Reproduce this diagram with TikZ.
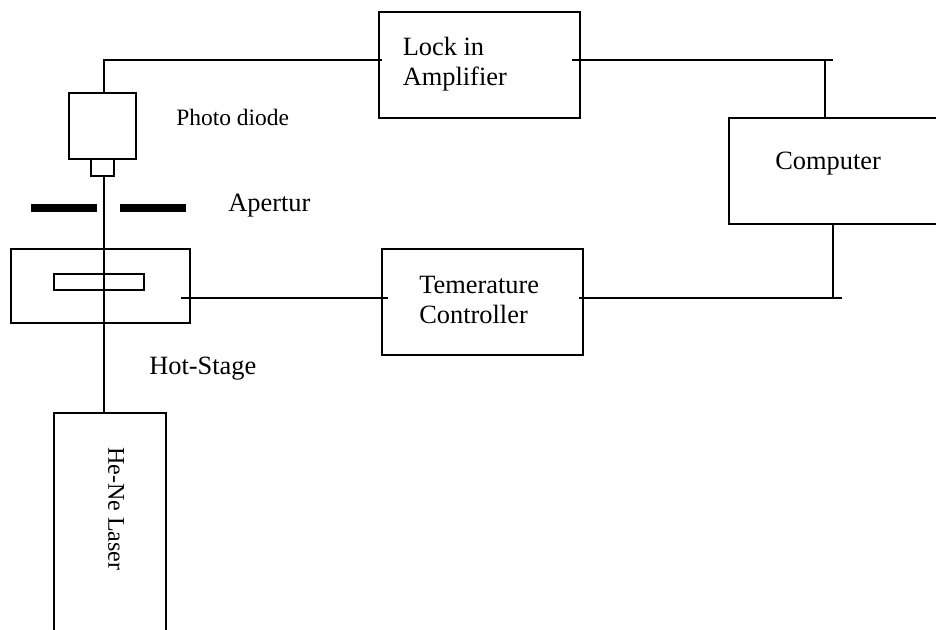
\documentclass[tikz,border=0pt]{standalone}
\usepackage{fontspec}
\setmainfont{Liberation Serif}
\usetikzlibrary{positioning}
\tikzset{
  devicebox/.style={draw, line width=1.5pt, inner sep=0pt},
  wire/.style={line width=1.5pt},
  caption/.style={font=\fontsize{19.8}{23}\selectfont, inner sep=0pt, anchor=west, align=left},
}

\begin{document}
\begin{tikzpicture}[x=0.75pt, y=-0.75pt]
      \useasboundingbox (0,0) rectangle (936,630);
      \clip (0,0) rectangle (936,630);
      % boxes
      \node[devicebox, minimum width=150.75pt, minimum height=79.5pt] (lockin) at (479,65) {};
      \node[devicebox, minimum width=150.75pt, minimum height=79.5pt] (controller) at (482,302) {};
      \node[devicebox, minimum width=225pt, minimum height=79.5pt] (computer) at (879,171) {};
      \node[devicebox, minimum width=50.25pt, minimum height=49.5pt] (diode) at (102.5,126) {};
      \node[devicebox, minimum width=17.25pt, minimum height=12.75pt] (sensor) at (102.5,167.5) {};
      \node[devicebox, minimum width=134.25pt, minimum height=55.5pt] (stage) at (100.5,286) {};
      \node[devicebox, minimum width=67.5pt, minimum height=12pt] (sample) at (99,282) {};
      \node[devicebox, minimum width=84pt, minimum height=225pt] (laser) at (110,563) {};
      % apertur
      \node[fill=black, inner sep=0pt, minimum width=49.5pt, minimum height=6pt] (slitL) at (64,208) {};
      \node[fill=black, inner sep=0pt, minimum width=49.5pt, minimum height=6pt] (slitR) at (153,208) {};
      % wire ends
      \coordinate (lockinIn) at (382,60);
      \coordinate (lockinOut) at (572,60);
      \coordinate (topEnd) at (833,60);
      \coordinate (topTap) at (825,60);
      \coordinate (corner) at (104,60);
      \coordinate (stageOut) at (181,298);
      \coordinate (controllerIn) at (388,298);
      \coordinate (controllerOut) at (579,298);
      \coordinate (lowEnd) at (842,298);
      \coordinate (lowTap) at (833,298);
      % connectors
      \draw[wire] (lockinIn) -- (corner) -- (corner |- diode.north);
      \draw[wire] (corner |- sensor.south) -- (corner |- laser.north);
      \draw[wire] (stageOut) -- (controllerIn);
      \draw[wire] (controllerOut) -- (lowEnd);
      \draw[wire] (lowTap) -- (lowTap |- computer.south);
      \draw[wire] (lockinOut) -- (topEnd);
      \draw[wire] (topTap) -- (topTap |- computer.north);
      % labels
      \node[caption] (lockinText) at (402.5,64) {Lock in\\Amplifier};
      \node[caption] (controllerText) at (419,300) {Temerature\\Controller};
      \node[caption] (computerText) at (775,164) {Computer};
      \node[caption, font=\fontsize{17.6}{20}\selectfont] (diodeText) at (176,117) {Photo diode};
      \node[caption] (apertureText) at (228,206) {Apertur};
      \node[caption] (stageText) at (149,369) {Hot-Stage};
      \node[font=\fontsize{18}{22}\selectfont, inner sep=0pt, rotate=-90] (laserText) at (116,509) {He-Ne Laser};
    \end{tikzpicture}
\end{document}
